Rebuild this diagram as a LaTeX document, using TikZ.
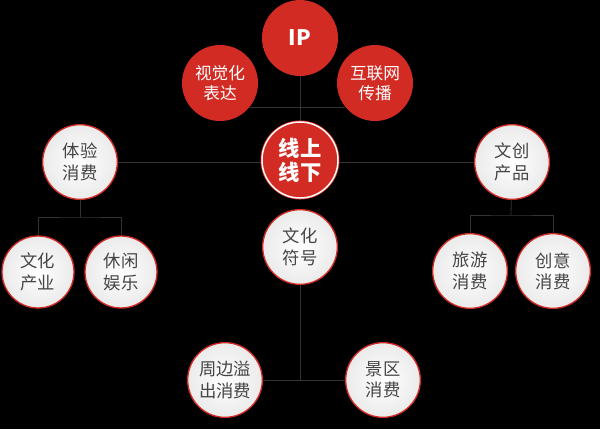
\documentclass[tikz,border=0pt]{standalone}
\usepackage{xcolor}
\usepackage{fontspec}
\usepackage{tikz}
\usetikzlibrary{backgrounds}
\setmainfont{Noto Sans CJK SC}
\definecolor{ipRed}{HTML}{D22B24}
\definecolor{ink}{HTML}{454545}
\definecolor{wire}{HTML}{333333}
\tikzset{
  redball/.style={circle,fill=ipRed,text=white,minimum size=57pt,inner sep=0pt,align=center,
    font=\fontsize{12.5}{15}\selectfont},
  hubball/.style={redball,draw=ipRed,line width=0.6pt,double=white,double distance=1.1pt,
    font=\fontsize{16}{18}\selectfont\bfseries},
  whiteball/.style={circle,draw=ipRed,line width=1pt,inner color=white,outer color=gray!16,
    text=ink,minimum size=56pt,inner sep=0pt,align=center,font=\fontsize{13}{16}\selectfont},
  link/.style={draw=wire,line width=0.6pt}
}

\begin{document}
\begin{tikzpicture}[x=0.75pt,y=-0.75pt]
  \useasboundingbox (0,0) rectangle (600,429);
  \node[redball,font=\fontsize{16}{18}\selectfont\bfseries] (ip) at (300,38) {IP};
  \node[redball] (visual) at (220,83) {视觉化\\表达};
  \node[redball] (internet) at (375,83) {互联网\\传播};
  \node[hubball] (online) at (300,160) {线上\\线下};
  \node[whiteball] (exper) at (80,162) {体验\\消费};
  \node[whiteball] (creatprod) at (512,162) {文创\\产品};
  \node[whiteball,minimum size=54pt] (industry) at (38,272) {文化\\产业};
  \node[whiteball,minimum size=54pt] (leisure) at (121,272) {休闲\\娱乐};
  \node[whiteball] (tour) at (470,271) {旅游\\消费};
  \node[whiteball] (creative) at (553,271) {创意\\消费};
  \node[whiteball] (symbol) at (300,247) {文化\\符号};
  \node[whiteball] (around) at (225,380) {周边溢\\出消费};
  \node[whiteball] (scenic) at (383,380) {景区\\消费};
  \coordinate (ljoin) at (80,217);
  \coordinate (rjoin) at (511,215);
  \begin{scope}[on background layer]
    \fill[black] (0,0) rectangle (600,429);
    % links behind the balls
    \draw[link] (ip) -- (online);
    \draw[link] (visual.-39) -- (internet.-141);
    \draw[link] (exper) -- (creatprod);
    \draw[link] (exper) -- (ljoin);
    \draw[link] (industry) |- (ljoin) -| (leisure);
    \draw[link] (creatprod) -- (rjoin);
    \draw[link] (tour) |- (rjoin) -| (creative);
    \draw[link] (symbol) -- (symbol |- around);
    \draw[link] (around) -- (scenic);
  \end{scope}
\end{tikzpicture}
\end{document}
